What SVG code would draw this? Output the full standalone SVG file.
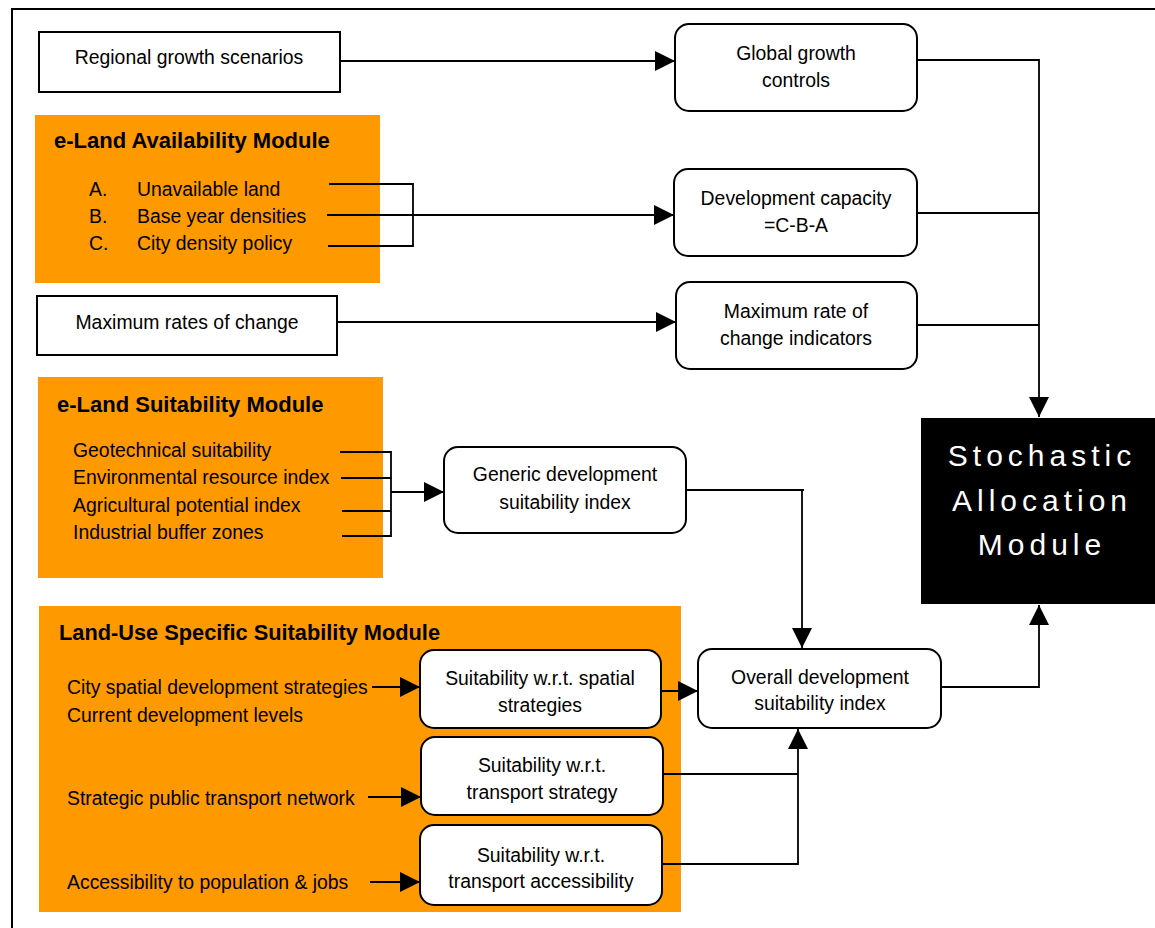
<svg xmlns="http://www.w3.org/2000/svg" width="1155" height="928" viewBox="0 0 1155 928">
<style>
text{font-family:"Liberation Sans",Arial,sans-serif;font-size:19.4px;fill:#000}
.c{text-anchor:middle}
.t{font-weight:bold;font-size:22px}
.box{fill:#fff;stroke:#000;stroke-width:2}
.mod{fill:#FF9900}
.ln{fill:none;stroke:#000;stroke-width:1.8}
.w{fill:#fff;font-size:30px;letter-spacing:5px;text-anchor:middle}
</style>
<defs>
<marker id="ah" markerUnits="userSpaceOnUse" markerWidth="20" markerHeight="20" refX="20" refY="10" orient="auto">
<path d="M0,0 L20,10 L0,20 Z" fill="#000"/>
</marker>
</defs>
<rect width="1155" height="928" fill="#fff"/>
<path d="M12,928 V9 H1155" fill="none" stroke="#000" stroke-width="2"/>

<g id="availability-module">
<rect class="mod" x="35" y="115" width="345" height="168"/>
<text class="t" x="54" y="148">e-Land Availability Module</text>
<text x="89" y="196">A.</text><text x="137" y="196">Unavailable land</text>
<text x="89" y="223">B.</text><text x="137" y="223">Base year densities</text>
<text x="89" y="250">C.</text><text x="137" y="250">City density policy</text>
</g>
<g id="suitability-module">
<rect class="mod" x="38" y="377" width="345" height="201"/>
<text class="t" x="57" y="412">e-Land Suitability Module</text>
<text x="73" y="457">Geotechnical suitability</text>
<text x="73" y="484">Environmental resource index</text>
<text x="73" y="512">Agricultural potential index</text>
<text x="73" y="539">Industrial buffer zones</text>
</g>
<g id="landuse-module">
<rect class="mod" x="39" y="606" width="642" height="306"/>
<text class="t" x="59" y="640" textLength="381" lengthAdjust="spacingAndGlyphs">Land-Use Specific Suitability Module</text>
<text x="67" y="694">City spatial development strategies</text>
<text x="67" y="722">Current development levels</text>
<text x="67" y="805">Strategic public transport network</text>
<text x="67" y="889">Accessibility to population &amp; jobs</text>
</g>

<g id="regional-growth">
<rect class="box" x="39" y="32" width="301" height="60"/>
<text class="c" x="189" y="64">Regional growth scenarios</text>
</g>
<g id="max-rates">
<rect class="box" x="37" y="296" width="300" height="59"/>
<text class="c" x="187" y="329">Maximum rates of change</text>
</g>
<g id="global-growth">
<rect class="box" x="675" y="24" width="242" height="87" rx="14"/>
<text class="c" x="796" y="60">Global growth</text>
<text class="c" x="796" y="87">controls</text>
</g>
<g id="dev-capacity">
<rect class="box" x="674" y="169" width="243" height="87" rx="14"/>
<text class="c" x="796" y="205">Development capacity</text>
<text class="c" x="796" y="232">=C-B-A</text>
</g>
<g id="max-rate-indicators">
<rect class="box" x="676" y="282" width="241" height="87" rx="14"/>
<text class="c" x="796" y="318">Maximum rate of</text>
<text class="c" x="796" y="345">change indicators</text>
</g>
<g id="generic-suitability">
<rect class="box" x="444" y="447" width="242" height="86" rx="14"/>
<text class="c" x="565" y="481">Generic development</text>
<text class="c" x="565" y="509">suitability index</text>
</g>
<g id="spatial-suitability">
<rect class="box" x="420" y="650" width="241" height="78" rx="14"/>
<text class="c" x="540" y="685">Suitability w.r.t. spatial</text>
<text class="c" x="540" y="712">strategies</text>
</g>
<g id="transport-strategy">
<rect class="box" x="421" y="737" width="242" height="78" rx="14"/>
<text class="c" x="542" y="772">Suitability w.r.t.</text>
<text class="c" x="542" y="799">transport strategy</text>
</g>
<g id="transport-accessibility">
<rect class="box" x="420" y="825" width="242" height="80" rx="14"/>
<text class="c" x="541" y="862">Suitability w.r.t.</text>
<text class="c" x="541" y="888">transport accessibility</text>
</g>
<g id="overall-suitability">
<rect class="box" x="698" y="649" width="243" height="79" rx="14"/>
<text class="c" x="820" y="684">Overall development</text>
<text class="c" x="820" y="710">suitability index</text>
</g>
<g id="stochastic">
<rect x="921" y="418" width="240" height="186" fill="#000"/>
<text class="w" x="1042" y="466">Stochastic</text>
<text class="w" x="1042" y="511">Allocation</text>
<text class="w" x="1042" y="555">Module</text>
</g>

<g id="connectors">
<path class="ln" d="M340,61 H675" marker-end="url(#ah)"/>
<path class="ln" d="M329,184 H413 V246 H328"/>
<path class="ln" d="M327,215 H674" marker-end="url(#ah)"/>
<path class="ln" d="M337,322 H676" marker-end="url(#ah)"/>
<path class="ln" d="M917,60 H1039 V417" marker-end="url(#ah)"/>
<path class="ln" d="M917,213 H1039"/>
<path class="ln" d="M917,325 H1039"/>
<path class="ln" d="M340,452 H391 V536 H342"/>
<path class="ln" d="M341,478 H391"/>
<path class="ln" d="M342,511 H391"/>
<path class="ln" d="M391,492 H444" marker-end="url(#ah)"/>
<path class="ln" d="M686,490 H804 M802,490 V648" marker-end="url(#ah)"/>
<path class="ln" d="M372,687 H420" marker-end="url(#ah)"/>
<path class="ln" d="M368,797 H421" marker-end="url(#ah)"/>
<path class="ln" d="M370,882 H420" marker-end="url(#ah)"/>
<path class="ln" d="M661,691 H698" marker-end="url(#ah)"/>
<path class="ln" d="M663,774 H798"/>
<path class="ln" d="M662,864 H798 V729" marker-end="url(#ah)"/>
<path class="ln" d="M941,687 H1039 V605" marker-end="url(#ah)"/>
</g>
</svg>
